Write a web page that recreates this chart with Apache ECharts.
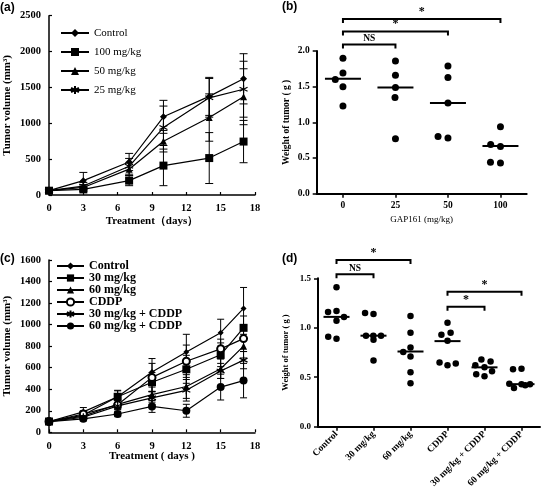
<!DOCTYPE html>
<html><head><meta charset="utf-8">
<script src="https://cdn.jsdelivr.net/npm/echarts@6.0.0/dist/echarts.min.js"></script>
<style>
html,body{margin:0;padding:0;background:#fff;}
#wrap{position:relative;width:541px;height:493px;background:#fff;}
.p{position:absolute;}
</style></head>
<body><div id="wrap">
<div id="pa" class="p" style="left:0;top:0;width:270px;height:245px"></div>
<div id="pb" class="p" style="left:270px;top:0;width:271px;height:245px"></div>
<div id="pc" class="p" style="left:0;top:245px;width:270px;height:248px"></div>
<div id="pd" class="p" style="left:270px;top:245px;width:271px;height:248px"></div>
</div>
<script>
// ---------- Panel (a) data ----------
const aDays = [0, 3, 7, 10, 14, 17];
const aNames = ['Control', '100 mg/kg', '50 mg/kg', '25 mg/kg'];
const aControl = [60, 200, 460, 1090, 1375, 1620];
const aControlErr = [10, 115, 120, 230, 265, 350];
const a100 = [60, 78, 200, 410, 515, 745];
const a100Err = [10, 30, 70, 280, 355, 295];
const a50 = [60, 105, 360, 750, 1080, 1370];
const a50Err = [10, 40, 90, 150, 330, 390];
const a25 = [60, 125, 400, 940, 1355, 1475];
const a25Err = [10, 50, 110, 300, 270, 390];

// ---------- Panel (b) data ----------
const bCats = ['0', '25', '50', '100'];
const b0 = [1.90, 1.69, 1.50, 1.23, 1.60];
const b25 = [1.86, 1.66, 1.49, 1.35, 0.77];
const b50 = [1.79, 1.63, 1.27, 0.78, 0.80];
const b100 = [0.94, 0.66, 0.43, 0.69, 0.44];
const bMedians = [1.61, 1.49, 1.27, 0.67];
const bBrackets = [[0, 1, 2.09, 'NS'], [0, 2, 2.275, '*'], [0, 3, 2.45, '*']];

// ---------- Panel (c) data ----------
const cDays = [0, 3, 6, 9, 12, 15, 17];
const cNames = ['Control', '30 mg/kg', '60 mg/kg', 'CDDP', '30 mg/kg + CDDP', '60 mg/kg + CDDP'];
const cControl = [100, 190, 330, 560, 745, 925, 1150];
const cControlErr = [10, 40, 60, 125, 165, 125, 195];
const c30 = [100, 160, 330, 465, 585, 720, 970];
const c30Err = [10, 35, 55, 90, 130, 110, 110];
const c60 = [100, 150, 260, 350, 425, 590, 800];
const c60Err = [10, 30, 40, 70, 110, 90, 110];
const cCDDP = [100, 170, 255, 510, 660, 775, 870];
const cCDDPErr = [10, 30, 40, 130, 150, 90, 120];
const c30C = [100, 140, 245, 320, 390, 570, 670];
const c30CErr = [10, 25, 35, 60, 100, 70, 80];
const c60C = [100, 125, 170, 240, 200, 420, 480];
const c60CErr = [10, 20, 25, 55, 60, 120, 160];

// ---------- Panel (d) data ----------
const dCats = ['Control', '30 mg/kg', '60 mg/kg', 'CDDP', '30 mg/kg + CDDP', '60 mg/kg + CDDP'];
const dControl = [1.41, 1.17, 1.07, 0.89, 1.16, 1.11, 0.91];
const d30 = [1.14, 0.88, 0.67, 0.92, 1.15, 0.92, 0.92];
const d60 = [1.12, 0.95, 0.80, 0.71, 0.55, 0.44, 0.755];
const dCDDP = [1.05, 0.87, 0.62, 0.93, 0.95, 0.65, 0.64];
const d30C = [0.60, 0.68, 0.51, 0.66, 0.62, 0.56, 0.53];
const d60C = [0.43, 0.585, 0.39, 0.58, 0.43, 0.435, 0.42];
const dMedians = [1.11, 0.92, 0.76, 0.865, 0.60, 0.43];
const dBrackets = [[0, 1, 1.54, 'NS'], [0, 2, 1.685, '*'], [3, 4, 1.213, '*'], [3, 5, 1.365, '*']];

// ---------- helpers ----------
const SERIF = 'Liberation Serif';
const BLACK = '#000';
const starPath = 'path://M0,-1L0,1M-0.87,-0.5L0.87,0.5M-0.87,0.5L0.87,-0.5';

function errSeries(xs, ys, es, capW) {
  return {
    type: 'custom', silent: true, z: 1, clip: false,
    data: xs.map((x, i) => [x, ys[i], es[i]]),
    encode: { x: 0, y: 1 },
    renderItem: function (params, api) {
      const x = api.value(0), y = api.value(1), e = api.value(2);
      const t = api.coord([x, y + e]), b = api.coord([x, y - e]);
      const h = capW / 2, st = { stroke: BLACK, lineWidth: 1 };
      return { type: 'group', children: [
        { type: 'line', shape: { x1: t[0], y1: t[1], x2: b[0], y2: b[1] }, style: st },
        { type: 'line', shape: { x1: t[0] - h, y1: t[1], x2: t[0] + h, y2: t[1] }, style: st },
        { type: 'line', shape: { x1: b[0] - h, y1: b[1], x2: b[0] + h, y2: b[1] }, style: st }
      ] };
    }
  };
}
function lineSeries(name, xs, ys, symbol, size, extra) {
  return Object.assign({
    name: name, type: 'line', z: 3,
    data: xs.map((x, i) => [x, ys[i]]),
    symbol: symbol, symbolSize: size, showSymbol: true,
    color: BLACK,
    lineStyle: { color: BLACK, width: 1.2 },
    itemStyle: { color: BLACK, borderColor: BLACK, borderWidth: 0, opacity: 1 },
    emphasis: { disabled: true }, animation: false
  }, extra || {});
}
function bracketSeries(list) {
  return {
    type: 'custom', xAxisIndex: 1, clip: false, silent: true, z: 5,
    data: list.map(b => [b[0], b[1], b[2], b[3]]),
    encode: { x: [0, 1], y: 2 },
    renderItem: function (params, api) {
      const p1 = api.coord([api.value(0), api.value(2)]);
      const p2 = api.coord([api.value(1), api.value(2)]);
      const label = list[params.dataIndex][3];
      const tick = 4;
      return { type: 'group', children: [
        { type: 'polyline', shape: { points: [[p1[0], p1[1] + tick], [p1[0], p1[1]], [p2[0], p2[1]], [p2[0], p2[1] + tick]] },
          style: { stroke: BLACK, lineWidth: 2, fill: null } },
        { type: 'text', style: { text: label, x: (p1[0] + p2[0]) / 2, y: p1[1] - 1,
          align: 'center', verticalAlign: 'bottom', fill: BLACK,
          font: 'bold ' + (label === '*' ? 12 : 9.5) + 'px "' + SERIF + '"' } }
      ] };
    }
  };
}
function valueAxisStyle(fs) {
  return {
    axisLine: { show: true, lineStyle: { color: BLACK, width: 1.5 } },
    axisTick: { show: true, inside: true, length: 3, lineStyle: { color: BLACK, width: 1.2 } },
    axisLabel: { color: BLACK, fontFamily: SERIF, fontWeight: 'bold', fontSize: fs, margin: 8,
      formatter: v => String(v) },
    splitLine: { show: false },
    nameMoveOverlap: false
  };
}
function panelTitle(t, left, top) {
  return { text: t, left: left, top: top, padding: 0,
    textStyle: { fontFamily: 'Liberation Sans', fontWeight: 'bold', fontSize: 12, color: BLACK } };
}
const emptyCircleExtra = { itemStyle: { color: BLACK, borderColor: BLACK, borderWidth: 1.2, opacity: 1 } };
const starExtra = { itemStyle: { color: BLACK, borderColor: BLACK, borderWidth: 1.2, opacity: 1 } };

// ---------- Panel (a) ----------
const chartA = echarts.init(document.getElementById('pa'), null, { renderer: 'canvas' });
chartA.setOption({
  animation: false,
  title: panelTitle('(a)', 0, 2),
  grid: { left: 49, top: 15.7, width: 206, height: 179.3, containLabel: false, outerBoundsMode: 'none' },
  legend: {
    data: aNames, orient: 'vertical', left: 60, top: 27, itemWidth: 28, itemHeight: 10, itemGap: 7,
    padding: 0, selectedMode: false,
    textStyle: { fontFamily: SERIF, fontSize: 11, color: BLACK, lineHeight: 12 }
  },
  xAxis: Object.assign({ type: 'value', min: 0, max: 18, interval: 3,
    name: 'Treatment\uFF08days\uFF09', nameLocation: 'middle', nameGap: 21,
    nameTextStyle: { fontFamily: SERIF, fontWeight: 'bold', fontSize: 11, color: BLACK } }, valueAxisStyle(10.5)),
  yAxis: Object.assign({ type: 'value', min: 0, max: 2500, interval: 500,
    name: 'Tumor volume (mm\u00B3)', nameLocation: 'middle', nameGap: 36,
    nameTextStyle: { fontFamily: SERIF, fontWeight: 'bold', fontSize: 11, color: BLACK } }, valueAxisStyle(10.5)),
  series: [
    errSeries(aDays, aControl, aControlErr, 8),
    errSeries(aDays, a100, a100Err, 8),
    errSeries(aDays, a50, a50Err, 8),
    errSeries(aDays, a25, a25Err, 8),
    lineSeries(aNames[0], aDays, aControl, 'diamond', 7),
    lineSeries(aNames[1], aDays, a100, 'rect', 8),
    lineSeries(aNames[2], aDays, a50, 'triangle', 7),
    lineSeries(aNames[3], aDays, a25, starPath, 8, starExtra)
  ]
});

// ---------- Panel (c) ----------
const chartC = echarts.init(document.getElementById('pc'), null, { renderer: 'canvas' });
chartC.setOption({
  animation: false,
  title: panelTitle('(c)', 0, 8),
  grid: { left: 49, top: 15, width: 206, height: 172.3, containLabel: false, outerBoundsMode: 'none' },
  legend: {
    data: cNames, orient: 'vertical', left: 56, top: 15, itemWidth: 27, itemHeight: 9, itemGap: 0,
    padding: 0, selectedMode: false,
    textStyle: { fontFamily: SERIF, fontWeight: 'bold', fontSize: 12, color: BLACK, lineHeight: 10.8 }
  },
  xAxis: Object.assign({ type: 'value', min: 0, max: 18, interval: 3,
    name: 'Treatment ( days )', nameLocation: 'middle', nameGap: 18,
    nameTextStyle: { fontFamily: SERIF, fontWeight: 'bold', fontSize: 11, color: BLACK } }, valueAxisStyle(10.5)),
  yAxis: Object.assign({ type: 'value', min: 0, max: 1600, interval: 200,
    name: 'Tumor volume (mm\u00B3)', nameLocation: 'middle', nameGap: 36,
    nameTextStyle: { fontFamily: SERIF, fontWeight: 'bold', fontSize: 11, color: BLACK } }, valueAxisStyle(10.5)),
  series: [
    errSeries(cDays, cControl, cControlErr, 7),
    errSeries(cDays, c30, c30Err, 7),
    errSeries(cDays, c60, c60Err, 7),
    errSeries(cDays, cCDDP, cCDDPErr, 7),
    errSeries(cDays, c30C, c30CErr, 7),
    errSeries(cDays, c60C, c60CErr, 7),
    lineSeries(cNames[0], cDays, cControl, 'diamond', 6),
    lineSeries(cNames[1], cDays, c30, 'rect', 8),
    lineSeries(cNames[2], cDays, c60, 'triangle', 7),
    lineSeries(cNames[3], cDays, cCDDP, 'emptyCircle', 7, emptyCircleExtra),
    lineSeries(cNames[4], cDays, c30C, starPath, 8, starExtra),
    lineSeries(cNames[5], cDays, c60C, 'circle', 8)
  ]
});

// ---------- dot-plot builder ----------
function dotOption(cfg) {
  const pts = [];
  cfg.groups.forEach((g, gi) => g.forEach(v => pts.push([gi, v])));
  return {
    animation: false,
    title: cfg.title,
    grid: Object.assign({ containLabel: false, outerBoundsMode: 'none' }, cfg.grid),
    xAxis: [
      { type: 'category', data: cfg.cats, boundaryGap: true,
        jitter: cfg.jitter, jitterOverlap: false, jitterMargin: cfg.jitterMargin,
        axisLine: { show: true, lineStyle: { color: BLACK, width: 2 } },
        axisTick: { show: true, alignWithLabel: true, length: 4, lineStyle: { color: BLACK, width: 1.5 } },
        axisLabel: Object.assign({ color: BLACK, fontFamily: SERIF, fontWeight: 'bold', fontSize: cfg.xfs, margin: 7, interval: 0 }, cfg.xLabelExtra || {}),
        name: cfg.xName, nameLocation: 'middle', nameGap: cfg.xNameGap, nameMoveOverlap: false,
        nameTextStyle: { fontFamily: SERIF, fontSize: 9, color: BLACK },
        splitLine: { show: false } },
      { type: 'category', data: cfg.cats, boundaryGap: true, show: false, position: 'bottom' }
    ],
    yAxis: { type: 'value', min: 0, max: cfg.ymax, interval: 0.5,
      axisLine: { show: true, lineStyle: { color: BLACK, width: 2 } },
      axisTick: { show: true, length: 4, lineStyle: { color: BLACK, width: 1.5 } },
      axisLabel: { color: BLACK, fontFamily: SERIF, fontWeight: 'bold', fontSize: cfg.yfs, margin: 7,
        formatter: v => v.toFixed(1) },
      splitLine: { show: false },
      name: 'Weight of tumor ( g )', nameLocation: 'middle', nameGap: cfg.yNameGap, nameMoveOverlap: false,
      nameTextStyle: { fontFamily: SERIF, fontWeight: 'bold', fontSize: cfg.yNameFs, color: BLACK } },
    series: [
      { type: 'scatter', xAxisIndex: 0, data: pts, symbol: 'circle', symbolSize: cfg.dot,
        itemStyle: { color: BLACK, opacity: 1 }, z: 3, silent: true },
      { type: 'scatter', xAxisIndex: 1, data: cfg.medians.map((m, i) => [i, m]), symbol: 'rect',
        symbolSize: [cfg.medW, 2], itemStyle: { color: BLACK, opacity: 1 }, z: 4, silent: true },
      bracketSeries(cfg.brackets)
    ]
  };
}

// ---------- Panel (b) ----------
const chartB = echarts.init(document.getElementById('pb'), null, { renderer: 'canvas' });
chartB.setOption(dotOption({
  title: panelTitle('(b)', 12, 1),
  grid: { left: 46.7, top: 51, width: 210, height: 142.7 },
  cats: bCats, groups: [b0, b25, b50, b100], medians: bMedians, brackets: bBrackets,
  ymax: 2.0, jitter: 30, jitterMargin: 3, dot: 7, medW: 36,
  xfs: 9.5, yfs: 9.5, xName: 'GAP161 (mg/kg)', xNameGap: 21, yNameGap: 25, yNameFs: 9.5
}));

// ---------- Panel (d) ----------
const chartD = echarts.init(document.getElementById('pd'), null, { renderer: 'canvas' });
chartD.setOption(dotOption({
  title: panelTitle('(d)', 12, 8),
  grid: { left: 48, top: 33.3, width: 222, height: 148.4 },
  cats: dCats, groups: [dControl, d30, d60, dCDDP, d30C, d60C], medians: dMedians, brackets: dBrackets,
  ymax: 1.5, jitter: 28, jitterMargin: 2, dot: 6.5, medW: 26,
  xfs: 9.5, yfs: 9, xName: '', xNameGap: 20, yNameGap: 28, yNameFs: 8.5,
  xLabelExtra: { rotate: 45, margin: 6 }
}));
</script>
</body></html>
